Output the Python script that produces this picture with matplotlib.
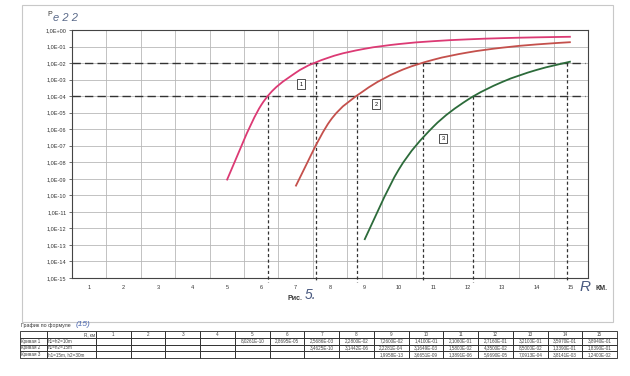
import numpy as np
import matplotlib.pyplot as plt
from matplotlib.path import Path
from matplotlib.patches import PathPatch, Rectangle

plt.rcParams['font.family'] = ['Liberation Sans', 'DejaVu Sans']

# R, km
R = list(range(1, 16))
R1 = [5, 6, 7, 8, 9, 10, 11, 12, 13, 14, 15]
P1 = [8.0261e-10, 2.8695e-05, 2.5686e-03, 2.2800e-02, 7.2600e-02, 1.4100e-01,
      2.1060e-01, 2.7160e-01, 3.2100e-01, 3.5970e-01, 3.8940e-01]
R2 = [7, 8, 9, 10, 11, 12, 13, 14, 15]
P2 = [3.4625e-10, 3.1442e-06, 2.2281e-04, 3.1649e-03, 1.5800e-02, 4.3500e-02,
      8.5000e-02, 1.3390e-01, 1.8390e-01]
R3 = [9, 10, 11, 12, 13, 14, 15]
P3 = [1.9958e-13, 3.6651e-09, 1.3891e-06, 5.9690e-05, 7.0913e-04, 3.8141e-03,
      1.2400e-02]
curve_names = ["Кривая 1", "Кривая 2", "Кривая 3"]
curve_params = ["h1=h2=10m", "h1=h2=15m", "h1=15m, h2=30m"]
colors = ["#dc3a74", "#c4504c", "#2c6b3a"]

# threshold levels and R where each curve reaches them
levels = [1e-2, 1e-4]
R_at_1e2 = [7.6, 10.7, 14.9]
R_at_1e4 = [6.2, 8.78, 12.16]


def smooth_patch(x, y, color):
    # Excel-style smoothed line: Catmull-Rom bezier in (x, log y)
    x = np.asarray(x, float)
    ly = np.log10(y)
    verts = [(x[0], 10 ** ly[0])]
    codes = [Path.MOVETO]
    n = len(x)
    for i in range(n - 1):
        i0, i3 = max(i - 1, 0), min(i + 2, n - 1)
        c1 = (x[i] + (x[i + 1] - x[i0]) / 6, ly[i] + (ly[i + 1] - ly[i0]) / 6)
        c2 = (x[i + 1] - (x[i3] - x[i]) / 6, ly[i + 1] - (ly[i3] - ly[i]) / 6)
        verts += [(c1[0], 10 ** c1[1]), (c2[0], 10 ** c2[1]), (x[i + 1], 10 ** ly[i + 1])]
        codes += [Path.CURVE4] * 3
    return PathPatch(Path(verts, codes), fill=False, edgecolor=color, lw=1.3, zorder=4)


fig = plt.figure(figsize=(6.3, 3.76), dpi=100)
fig.patch.set_facecolor("white")

# outer chart frame
fig.add_artist(Rectangle((22 / 630, 1 - 322 / 376), 591 / 630, 317 / 376,
                         transform=fig.transFigure, fill=False, ec="#c8c8c8", lw=0.8))

ax = fig.add_axes([72 / 630, 1 - 278 / 376, 516 / 630, 248 / 376])
ax.set_yscale("log")
ax.set_xlim(0.5, 15.5)
ax.set_ylim(1e-15, 1)
ax.set_yticks([10.0 ** -k for k in range(16)])
ax.set_yticklabels(["1,0E+00"] + ["1,0E-%02d" % k for k in range(1, 16)])
ax.yaxis.set_minor_locator(plt.NullLocator())
ax.set_xticks(R)
ax.set_xticklabels([str(r) for r in R])
ax.set_xticks(np.arange(0.5, 15.6, 1), minor=True)
ax.tick_params(axis="x", which="both", length=0, labelsize=4, pad=5, colors="#333333")
ax.tick_params(axis="y", length=2, width=0.5, labelsize=4, pad=2, colors="#333333")
ax.grid(True, which="minor", axis="x", color="#b8b8b8", lw=0.6)
ax.grid(True, which="major", axis="y", color="#b8b8b8", lw=0.6)
for s in ax.spines.values():
    s.set_color("#444444")
    s.set_linewidth(0.8)

for x, y, c in [(R1, P1, colors[0]), (R2, P2, colors[1]), (R3, P3, colors[2])]:
    ax.add_patch(smooth_patch(x, y, c))

for lv in levels:
    ax.plot([0.5, 15.4], [lv, lv], color="#333333", lw=1.0, dashes=(6, 3), zorder=3)
for xs, lv in [(R_at_1e2, 1e-2), (R_at_1e4, 1e-4)]:
    for xv in xs:
        ax.plot([xv, xv], [lv, 10 ** -15.25], color="#333333", lw=0.9,
                dashes=(2.5, 2), zorder=3, clip_on=False)

for lab, xp, yp in [("1", 7.16, 10 ** -3.27), ("2", 9.34, 10 ** -4.48), ("3", 11.28, 10 ** -6.55)]:
    ax.text(xp, yp, lab, fontsize=4, ha="center", va="center", zorder=5,
            bbox=dict(boxstyle="square,pad=0.4", fc="white", ec="#333333", lw=0.6))

# axis captions
fig.text(47 / 630, 1 - 14 / 376, "P", fontsize=5, color="#333333", va="center")
fig.text(53 / 630, 1 - 18 / 376, "е 2 2", fontsize=8, color="#5a6a8a",
         style="italic", va="center")
fig.text(585 / 630, 1 - 287 / 376, "R", fontsize=11, color="#4a5a80",
         style="italic", ha="center", va="center")
fig.text(595 / 630, 1 - 288 / 376, "КМ.", fontsize=5, color="#333333",
         weight="bold", va="center")
fig.text(288 / 630, 1 - 298 / 376, "Рис.", fontsize=5, color="#333333",
         weight="bold", ha="left", va="center")
fig.text(305 / 630, 1 - 295 / 376, "5.", fontsize=10, color="#4a5a80",
         style="italic", va="center")

# table under the chart
fig.text(21 / 630, 1 - 326 / 376, "График по формуле", fontsize=3.8,
         color="#333333", va="center")
fig.text(76 / 630, 1 - 325 / 376, "(15)", fontsize=6, color="#4a66b0",
         style="italic", va="center")

tax = fig.add_axes([20 / 630, 1 - 358 / 376, 597 / 630, 27 / 376])
tax.axis("off")


def fmt(v):
    return ("%.4E" % v).replace(".", ",")


rows = [["", "R, км"] + [str(r) for r in R]]
for name, par, xs, ys in zip(curve_names, curve_params, [R1, R2, R3], [P1, P2, P3]):
    d = dict(zip(xs, ys))
    rows.append([name, par] + [fmt(d[r]) if r in d else "" for r in R])
widths = [27, 49] + [34.73] * 15
tab = tax.table(cellText=rows, colWidths=[w / sum(widths) for w in widths],
                bbox=[0, 0, 1, 1], cellLoc="center")
tab.auto_set_font_size(False)
for (r, c), cell in tab.get_celld().items():
    cell.set_fontsize(3.3)
    cell.set_linewidth(0.6)
    cell.set_edgecolor("#222222")
    cell.PAD = 0.02
    cell.get_text().set_color("#444444")
    if c < 2:
        cell._loc = "left"
        cell.get_text().set_ha("left")
    if r == 0 and c == 1:
        cell._loc = "right"
        cell.get_text().set_ha("right")

fig.savefig("out.png", dpi=100, facecolor="white")
